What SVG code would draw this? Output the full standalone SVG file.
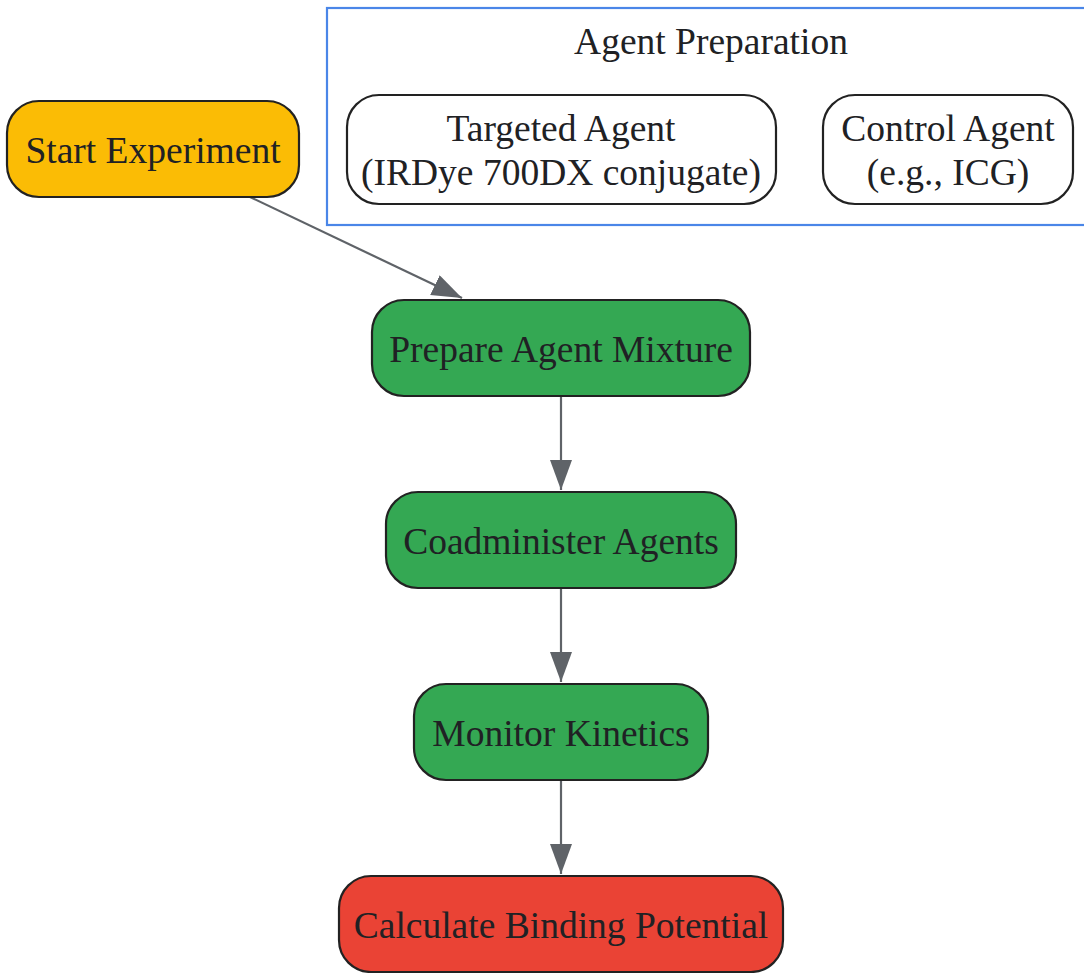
<svg xmlns="http://www.w3.org/2000/svg" width="1084" height="973" viewBox="0 0 1084 973">
<style>
.node rect{stroke:#222222;stroke-width:2.2}
.lbl{font-family:"Liberation Serif","Times New Roman",serif;font-size:37.5px;fill:#202124;text-anchor:middle}
.edge{stroke:#5F6368;stroke-width:2.2;fill:none}
</style>
<defs>
<marker id="arr" markerUnits="userSpaceOnUse" markerWidth="32" markerHeight="24" refX="30" refY="11" orient="auto">
<path d="M0,0 L30,11 L0,22 Z" fill="#5F6368"/>
</marker>
</defs>
<rect width="1084" height="973" fill="#ffffff"/>
<g id="cluster_agent_preparation">
<rect x="327" y="8" width="770" height="217" fill="none" stroke="#4A86E8" stroke-width="2.2"/>
<text class="lbl" x="711" y="54">Agent Preparation</text>
</g>
<g id="edges">
<line class="edge" x1="250" y1="197" x2="462" y2="298" marker-end="url(#arr)"/>
<line class="edge" x1="561" y1="396" x2="561" y2="490" marker-end="url(#arr)"/>
<line class="edge" x1="561" y1="588" x2="561" y2="682" marker-end="url(#arr)"/>
<line class="edge" x1="561" y1="780" x2="561" y2="874" marker-end="url(#arr)"/>
</g>
<g id="start" class="node">
<rect x="7" y="101" width="292" height="96" rx="32" fill="#FBBC05"/>
<text class="lbl" x="153" y="163">Start Experiment</text>
</g>
<g id="targeted" class="node">
<rect x="347" y="95" width="429" height="109" rx="32" fill="#ffffff"/>
<text class="lbl" x="561" y="141">Targeted Agent</text>
<text class="lbl" x="561" y="185">(IRDye 700DX conjugate)</text>
</g>
<g id="control" class="node">
<rect x="823" y="95" width="250" height="109" rx="32" fill="#ffffff"/>
<text class="lbl" x="948" y="141">Control Agent</text>
<text class="lbl" x="948" y="185">(e.g., ICG)</text>
</g>
<g id="prepare" class="node">
<rect x="372" y="300" width="378" height="96" rx="32" fill="#34A853"/>
<text class="lbl" x="561" y="362">Prepare Agent Mixture</text>
</g>
<g id="coadminister" class="node">
<rect x="386" y="492" width="350" height="96" rx="32" fill="#34A853"/>
<text class="lbl" x="561" y="554">Coadminister Agents</text>
</g>
<g id="monitor" class="node">
<rect x="414" y="684" width="294" height="96" rx="32" fill="#34A853"/>
<text class="lbl" x="561" y="746">Monitor Kinetics</text>
</g>
<g id="calculate" class="node">
<rect x="339" y="876" width="444" height="96" rx="32" fill="#EA4335"/>
<text class="lbl" x="561" y="938">Calculate Binding Potential</text>
</g>
</svg>
